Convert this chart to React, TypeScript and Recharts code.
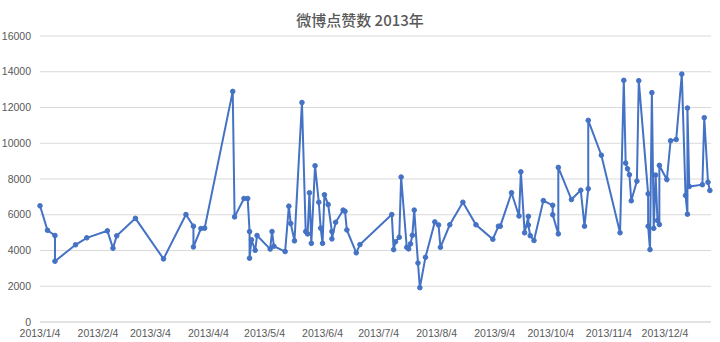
import React from "react";
import { LineChart, Line, XAxis, YAxis, CartesianGrid } from "recharts";

// post dates and like counts
const postDates = [
  "2013-01-04", "2013-01-08", "2013-01-12", "2013-01-12", "2013-01-23", "2013-01-29",
  "2013-02-09", "2013-02-12", "2013-02-14", "2013-02-24", "2013-03-11", "2013-03-23",
  "2013-03-27", "2013-03-27", "2013-03-31", "2013-04-02", "2013-04-17", "2013-04-18",
  "2013-04-23", "2013-04-25", "2013-04-26", "2013-04-26", "2013-04-27", "2013-04-29",
  "2013-04-30", "2013-05-07", "2013-05-08", "2013-05-09", "2013-05-15", "2013-05-17",
  "2013-05-18", "2013-05-20", "2013-05-24", "2013-05-26", "2013-05-27", "2013-05-28",
  "2013-05-29", "2013-05-31", "2013-06-02", "2013-06-03", "2013-06-04", "2013-06-05",
  "2013-06-07", "2013-06-09", "2013-06-09", "2013-06-11", "2013-06-15", "2013-06-16",
  "2013-06-17", "2013-06-22", "2013-06-24", "2013-07-11", "2013-07-12", "2013-07-13",
  "2013-07-15", "2013-07-16", "2013-07-19", "2013-07-20", "2013-07-21", "2013-07-22",
  "2013-07-23", "2013-07-25", "2013-07-26", "2013-07-29", "2013-08-03", "2013-08-05",
  "2013-08-06", "2013-08-11", "2013-08-18", "2013-08-25", "2013-09-03", "2013-09-06",
  "2013-09-07", "2013-09-13", "2013-09-17", "2013-09-18", "2013-09-20", "2013-09-22",
  "2013-09-22", "2013-09-23", "2013-09-25", "2013-09-30", "2013-10-05", "2013-10-05",
  "2013-10-08", "2013-10-08", "2013-10-15", "2013-10-20", "2013-10-22", "2013-10-24",
  "2013-10-24", "2013-10-31", "2013-11-10", "2013-11-12", "2013-11-13", "2013-11-14",
  "2013-11-15", "2013-11-16", "2013-11-19", "2013-11-20", "2013-11-25", "2013-11-25",
  "2013-11-26", "2013-11-27", "2013-11-28", "2013-11-29", "2013-11-30", "2013-12-01",
  "2013-12-01", "2013-12-05", "2013-12-07", "2013-12-10", "2013-12-13", "2013-12-15",
  "2013-12-16", "2013-12-16", "2013-12-17", "2013-12-24", "2013-12-25", "2013-12-27",
  "2013-12-28",
];

const likes = [
  6500, 5130, 4840, 3400, 4320, 4710,
  5100, 4130, 4820, 5800, 3530, 6010,
  5360, 4200, 5230, 5250, 12900, 5880,
  6910, 6910, 5060, 3570, 4600, 4010,
  4840, 4080, 5060, 4240, 3940, 6480,
  5510, 4540, 12280, 5060, 4930, 7230,
  4400, 8740, 6700, 5250, 4400, 7120,
  6570, 5060, 4650, 5580, 6260, 6190,
  5150, 3870, 4330, 6010, 4050, 4490,
  4740, 8110, 4180, 4090, 4370, 4850,
  6260, 3300, 1920, 3620, 5600, 5430,
  4180, 5440, 6700, 5440, 4630, 5360,
  5360, 7230, 5930, 8400, 4990, 5910,
  5420, 4830, 4560, 6790, 6530, 6000,
  4930, 8650, 6850, 7370, 5360, 7450,
  11280, 9330, 4990, 13520, 8890, 8570,
  8240, 6780, 7880, 13500, 7170, 5360,
  4050, 12830, 5240, 8220, 5680, 5450,
  8760, 7970, 10140, 10210, 13870, 7080,
  6030, 11970, 7580, 7680, 11430, 7820,
  7360,
];

const tickDates = [
  "2013-01-04", "2013-02-04", "2013-03-04", "2013-04-04", "2013-05-04", "2013-06-04",
  "2013-07-04", "2013-08-04", "2013-09-04", "2013-10-04", "2013-11-04", "2013-12-04",
];
const tickLabels = [
  "2013/1/4", "2013/2/4", "2013/3/4", "2013/4/4", "2013/5/4", "2013/6/4",
  "2013/7/4", "2013/8/4", "2013/9/4", "2013/10/4", "2013/11/4", "2013/12/4",
];
const yTicks = [0, 2000, 4000, 6000, 8000, 10000, 12000, 14000, 16000];

const DAY = 86400000;
const toTs = (s: string) => {
  const [y, m, d] = s.split("-").map(Number);
  return Date.UTC(y, m - 1, d);
};

const data = postDates.map((d, i) => ({ t: toTs(d), likes: likes[i] }));
const xTicks = tickDates.map(toTs);
const labelFor = (v: number) => {
  const i = xTicks.indexOf(v);
  return i >= 0 ? tickLabels[i] : "";
};

const BLUE = "#4472C4";
const FONT = "'Liberation Sans', Arial, sans-serif";

export default function App() {
  return (
    <div style={{ position: "absolute", left: 0, top: 0, width: 720, height: 342, background: "#fff" }}>
      <div
        style={{
          position: "absolute",
          left: 0,
          top: 8,
          width: 720,
          height: 24,
          lineHeight: "24px",
          textAlign: "center",
          fontFamily: "'Noto Sans CJK SC', sans-serif",
          fontSize: 15,
          fontWeight: 500,
          color: "#595959",
        }}
      >
        微博点赞数 2013年
      </div>
      <LineChart
        width={720}
        height={342}
        data={data}
        margin={{ top: 36, right: 9, bottom: 0, left: 0 }}
      >
        <CartesianGrid vertical={false} stroke="#d9d9d9" />
        <XAxis
          dataKey="t"
          type="number"
          domain={[toTs("2013-01-04"), toTs("2013-12-28") + 0.6 * DAY]}
          ticks={xTicks}
          tickFormatter={labelFor}
          interval={0}
          height={20}
          axisLine={{ stroke: "#d9d9d9" }}
          tickLine={false}
          tickSize={0}
          tickMargin={8}
          tick={{ fontSize: 10.5, fill: "#595959", fontFamily: FONT }}
        />
        <YAxis
          type="number"
          domain={[0, 16000]}
          ticks={yTicks}
          interval={0}
          width={40}
          axisLine={false}
          tickLine={false}
          tickSize={0}
          tickMargin={9}
          tick={{ fontSize: 10.5, fill: "#595959", fontFamily: FONT }}
        />
        <Line
          type="linear"
          dataKey="likes"
          stroke={BLUE}
          strokeWidth={2}
          dot={{ r: 2.3, fill: BLUE, stroke: BLUE, strokeWidth: 1 }}
          isAnimationActive={false}
        />
      </LineChart>
    </div>
  );
}
